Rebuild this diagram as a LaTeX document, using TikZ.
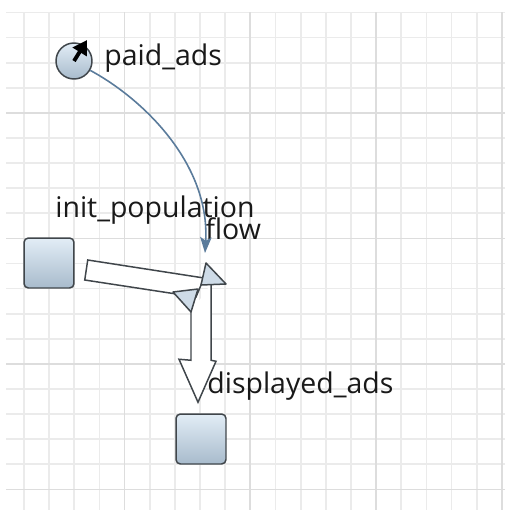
\documentclass[tikz,border=0pt]{standalone}
\usepackage{fontspec}
\setmainfont{Open Sans}
\usepackage{xcolor}
\usetikzlibrary{shapes.geometric, arrows.meta, positioning, calc}

\definecolor{gridminor}{HTML}{EBEBEB}
\definecolor{gridmajor}{HTML}{DDDDDD}
\definecolor{stocktop}{HTML}{E2EDF6}
\definecolor{stockbottom}{HTML}{A8BBCC}
\definecolor{stockline}{HTML}{40464B}
\definecolor{linkblue}{HTML}{5A7B9B}

\begin{document}
\begin{tikzpicture}[x=0.02cm, y=-0.02cm, font=\fontsize{16.2}{19}\selectfont,
    stock/.style={draw=stockline, line width=0.85pt, rectangle, rounded corners=2.5pt, minimum size=1cm, top color=stocktop, bottom color=stockbottom},
    aux/.style={draw=stockline, line width=0.85pt, circle, minimum size=0.72cm, top color=stocktop, bottom color=stockbottom},
    valvepart/.style={draw=stockline, line width=0.85pt, fill=stocktop!65!stockbottom, line join=round},
    pipe/.style={draw=stockline, line width=0.85pt, fill=white},
    caption/.style={inner sep=0pt, anchor=base west, text=black!90},
    link/.style={draw=linkblue, line width=0.9pt, -{Stealth[length=9pt, width=6.5pt, inset=2pt]}}]
    \useasboundingbox (0,0) rectangle (505,510);
    % Draw the background grid
    \fill[white] (0,0) rectangle (505,510);
    \foreach \k in {0,...,19} {
        \draw[gridminor, line width=1pt] (6,{12.5+25.1*\k}) -- (505,{12.5+25.1*\k});
        \draw[gridminor, line width=1pt] ({24+25.15*\k},12.5) -- ({24+25.15*\k},510);
    }
    \foreach \k in {4,9,14,19} {
        \draw[gridmajor, line width=1pt] (6,{12.5+25.1*\k}) -- (505,{12.5+25.1*\k});
        \draw[gridmajor, line width=1pt] ({24+25.15*\k},12.5) -- ({24+25.15*\k},510);
    }

    % Define the stocks, the auxiliary and the valve
    \node (paid) [aux] at (74,61) {};
    \node (init) [stock] at (49,263) {};
    \node (displayed) [stock] at (201,439) {};
    \coordinate (valve) at (200,287);
    \coordinate (valvein) at ($(valve)+(5,-34)$);

    % Labels
    \node (paidlabel) [caption] at (104,66) {paid\_ads};
    \node (initlabel) [caption] at (55,217) {init\_population};
    \node (flowlabel) [caption] at (205,239) {flow};
    \node (displayedlabel) [caption] at (207,393) {displayed\_ads};

    % Arrow inside the auxiliary
    \draw[line width=2.2pt, -{Triangle[length=8pt, width=9pt]}] (paid.center) -- ($(paid.center)+(13,-21)$);

    % Flow pipe out of init_population
    \draw[pipe] ($(init.east)+(13,-3)$) -- ($(valve)+(4,-9)$) -- ($(valve)+(-4,10)$) -- ($(init.east)+(10,17)$) -- cycle;
    % Flow pipe into displayed_ads
    \draw[pipe] ($(valve)+(11,-3)$) -- ($(displayed.north)+(10,-53)$) -- ($(displayed.north)+(15,-52)$)
        -- ($(displayed.north)+(-3,-11)$) -- ($(displayed.north)+(-22,-54)$) -- ($(displayed.north)+(-10,-53)$)
        -- ($(valve)+(-9,25)$);
    % Valve
    \draw[valvepart] ($(valve)+(6,-24)$) -- ($(valve)+(26,-3)$) -- ($(valve)+(1,-2)$) -- cycle;
    \draw[valvepart] ($(valve)+(-27,5)$) -- ($(valve)+(-2,2)$) -- ($(valve)+(-9,25)$) -- cycle;

    % Information link from paid_ads to the flow
    \draw[link] (paid.-30) .. controls (145,100) and (210,165) .. (valvein);
\end{tikzpicture}
\end{document}
